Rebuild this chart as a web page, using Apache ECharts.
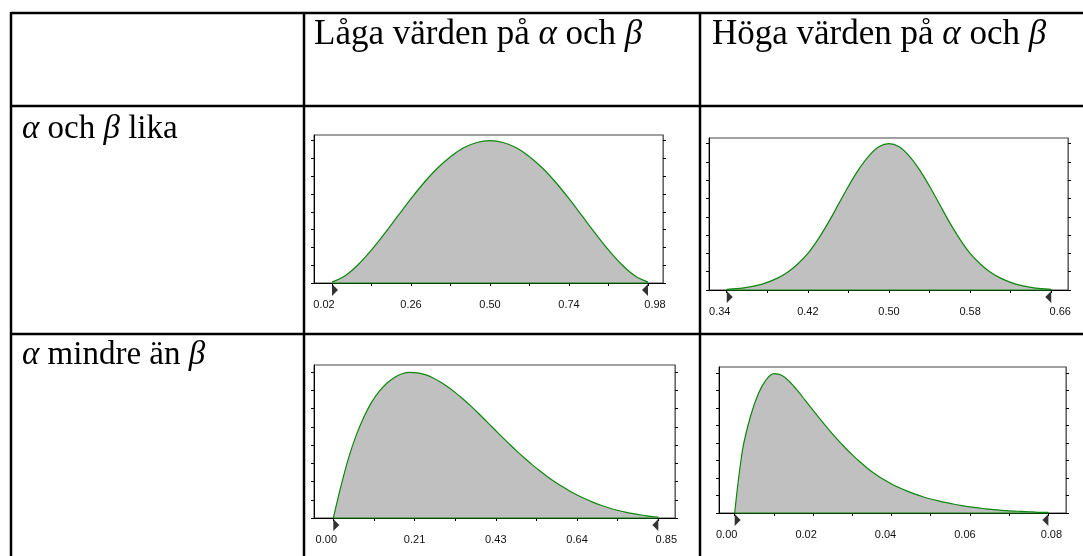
<!DOCTYPE html>
<html>
<head>
<meta charset="utf-8">
<title>Betafördelning</title>
<script src="https://cdn.jsdelivr.net/npm/echarts@6/dist/echarts.min.js"></script>
<style>
html, body { margin: 0; padding: 0; background: #fff; }
#chart { width: 1083px; height: 556px; }
</style>
</head>
<body>
<div id="chart"></div>
<script>
// ==================== data ====================

// låga värden, alpha = beta (y i tick-enheter, 0-8)
const xLowEq = [0.02, 0.06, 0.10, 0.14, 0.18, 0.22, 0.26, 0.30, 0.34, 0.38, 0.42, 0.46, 0.50,
                0.54, 0.58, 0.62, 0.66, 0.70, 0.74, 0.78, 0.82, 0.86, 0.90, 0.94, 0.98];
const yLowEq = [0.05, 0.41, 1.04, 1.86, 2.79, 3.77, 4.74, 5.65, 6.45, 7.1, 7.6, 7.9, 8.0,
                7.9, 7.6, 7.1, 6.45, 5.65, 4.74, 3.77, 2.79, 1.86, 1.04, 0.41, 0.05];
const ticksLowEq = [0.02, 0.14, 0.26, 0.38, 0.50, 0.62, 0.74, 0.86, 0.98];
const labelValsLowEq = [0.02, 0.26, 0.50, 0.74, 0.98];
const labelsLowEq = ['0.02', '0.26', '0.50', '0.74', '0.98'];

// höga värden, alpha = beta
const xHighEq = [0.34, 0.35, 0.36, 0.37, 0.38, 0.39, 0.40, 0.41, 0.42, 0.43, 0.44, 0.45, 0.46, 0.47, 0.48, 0.49, 0.50,
                 0.51, 0.52, 0.53, 0.54, 0.55, 0.56, 0.57, 0.58, 0.59, 0.60, 0.61, 0.62, 0.63, 0.64, 0.65, 0.66];
const yHighEq = [0.03, 0.07, 0.14, 0.25, 0.42, 0.65, 0.97, 1.42, 2.0, 2.77, 3.67, 4.67, 5.67, 6.58, 7.32, 7.83, 8.0,
                 7.83, 7.32, 6.58, 5.67, 4.67, 3.67, 2.77, 2.0, 1.42, 0.97, 0.65, 0.42, 0.25, 0.14, 0.07, 0.03];
const ticksHighEq = [0.34, 0.38, 0.42, 0.46, 0.50, 0.54, 0.58, 0.62, 0.66];
const labelValsHighEq = [0.34, 0.42, 0.50, 0.58, 0.66];
const labelsHighEq = ['0.34', '0.42', '0.50', '0.58', '0.66'];

// låga värden, alpha < beta
const xLowLess = [0.00, 0.02, 0.04, 0.06, 0.08, 0.10, 0.12, 0.14, 0.16, 0.18, 0.20, 0.22, 0.24, 0.26, 0.28,
                  0.30, 0.32, 0.34, 0.36, 0.38, 0.40, 0.42, 0.44, 0.46, 0.48, 0.50, 0.52, 0.54, 0.56, 0.58,
                  0.60, 0.62, 0.64, 0.66, 0.68, 0.70, 0.72, 0.74, 0.76, 0.78, 0.80, 0.82, 0.84, 0.85];
const yLowLess = [0, 1.75, 3.3, 4.55, 5.55, 6.35, 6.95, 7.4, 7.72, 7.92, 8.0, 7.97, 7.87, 7.7, 7.47,
                  7.19, 6.87, 6.52, 6.14, 5.74, 5.32, 4.9, 4.48, 4.07, 3.67, 3.29, 2.93, 2.59, 2.27, 1.98,
                  1.71, 1.46, 1.24, 1.04, 0.86, 0.7, 0.56, 0.44, 0.34, 0.25, 0.18, 0.12, 0.07, 0.05];
const ticksLowLess = [0, 0.10625, 0.2125, 0.31875, 0.425, 0.53125, 0.6375, 0.74375, 0.85];
const labelValsLowLess = [0, 0.2125, 0.425, 0.6375, 0.85];
const labelsLowLess = ['0.00', '0.21', '0.43', '0.64', '0.85'];

// höga värden, alpha < beta
const xHighLess = [0.000, 0.002, 0.004, 0.006, 0.008, 0.010, 0.012, 0.014, 0.016, 0.018, 0.020,
                   0.022, 0.024, 0.026, 0.028, 0.030, 0.032, 0.034, 0.036, 0.038, 0.040,
                   0.042, 0.044, 0.046, 0.048, 0.050, 0.052, 0.054, 0.056, 0.058, 0.060,
                   0.062, 0.064, 0.066, 0.068, 0.070, 0.072, 0.074, 0.076, 0.078, 0.080];
const yHighLess = [0, 3.6, 5.5, 6.8, 7.6, 7.96, 7.87, 7.5, 7.0, 6.43, 5.86,
                   5.3, 4.76, 4.25, 3.77, 3.32, 2.91, 2.53, 2.2, 1.91, 1.66,
                   1.44, 1.25, 1.08, 0.93, 0.8, 0.69, 0.59, 0.5, 0.42, 0.35,
                   0.29, 0.24, 0.19, 0.15, 0.12, 0.1, 0.08, 0.06, 0.04, 0.03];
const ticksHighLess = [0, 0.01, 0.02, 0.03, 0.04, 0.05, 0.06, 0.07, 0.08];
const labelValsHighLess = [0, 0.02, 0.04, 0.06, 0.08];
const labelsHighLess = ['0.00', '0.02', '0.04', '0.06', '0.08'];

const yTicks = [0, 1, 2, 3, 4, 5, 6, 7, 8];

// ==================== layout ====================

const serif = '"Liberation Serif", "Times New Roman", serif';
const sans = '"Liberation Sans", Arial, sans-serif';
const curveColor = '#0b870b';
const fillColor = '#c0c0c0';

const panels = [
    { box: [314, 135, 349, 148], xMin: -0.0347, xMax: 1.0256, yMax: 8.32,
      xs: xLowEq, ys: yLowEq, ticks: ticksLowEq, labelVals: labelValsLowEq, labels: labelsLowEq,
      shift: [-8, 0, 0, 0, 7] },
    { box: [709, 138, 359, 152], xMin: 0.3225, xMax: 0.6765, yMax: 8.31,
      xs: xHighEq, ys: yHighEq, ticks: ticksHighEq, labelVals: labelValsHighEq, labels: labelsHighEq,
      shift: [-7, 0, 0, 0, 9] },
    { box: [314, 365, 361, 153], xMin: -0.0505, xMax: 0.8937, yMax: 8.4,
      xs: xLowLess, ys: yLowLess, ticks: ticksLowLess, labelVals: labelValsLowLess, labels: labelsLowLess,
      shift: [-7, 0, 0, 0, 8] },
    { box: [719, 367, 347, 146], xMin: -0.004, xMax: 0.0845, yMax: 8.34,
      xs: xHighLess, ys: yHighLess, ticks: ticksHighLess, labelVals: labelValsHighLess, labels: labelsHighLess,
      shift: [-8, -7, -6, -5, 3] }
];

const grids = [];
const xAxes = [];
const yAxes = [];
const series = [];

panels.forEach(function(p, i) {
    grids.push({
        left: p.box[0], top: p.box[1], width: p.box[2], height: p.box[3],
        show: true, borderColor: '#444', borderWidth: 1, backgroundColor: 'transparent'
    });

    const rich = {};
    p.shift.forEach(function(dx, k) {
        rich['s' + k] = {
            fontFamily: sans, fontSize: 11, color: '#111',
            padding: dx < 0 ? [0, -2 * dx, 0, 0] : [0, 0, 0, 2 * dx]
        };
    });

    xAxes.push({
        type: 'value', gridIndex: i, min: p.xMin, max: p.xMax,
        axisLine: { show: true, onZero: false, lineStyle: { color: '#000', width: 1 } },
        axisTick: { show: true, inside: false, length: 3, customValues: p.ticks, lineStyle: { color: '#000' } },
        axisLabel: {
            show: true, margin: 16, customValues: p.labelVals,
            fontFamily: sans, fontSize: 11, color: '#111',
            formatter: function(val) {
                for (let k = 0; k < p.labelVals.length; k++) {
                    if (Math.abs(val - p.labelVals[k]) < 1e-9) return '{s' + k + '|' + p.labels[k] + '}';
                }
                return '';
            },
            rich: rich
        },
        splitLine: { show: false }
    });

    yAxes.push({
        type: 'value', gridIndex: i, min: 0, max: p.yMax, position: 'left',
        axisLine: { show: true, onZero: false, lineStyle: { color: '#000', width: 1 } },
        axisTick: { show: true, inside: false, length: 3, customValues: yTicks, lineStyle: { color: '#000' } },
        axisLabel: { show: false },
        splitLine: { show: false }
    });
    yAxes.push({
        type: 'value', gridIndex: i, min: 0, max: p.yMax, position: 'right',
        axisLine: { show: true, onZero: false, lineStyle: { color: '#666', width: 1 } },
        axisTick: { show: true, inside: false, length: 3, customValues: yTicks, lineStyle: { color: '#000' } },
        axisLabel: { show: false },
        splitLine: { show: false }
    });

    const n = p.xs.length;

    // fördelningskurvan
    series.push({
        type: 'line', xAxisIndex: i, yAxisIndex: i * 2,
        data: p.xs.map(function(x, k) { return [x, p.ys[k]]; }),
        smooth: 0.35, showSymbol: false, clip: false,
        lineStyle: { color: curveColor, width: 1.2 },
        areaStyle: { color: fillColor, opacity: 1 },
        z: 3
    });

    // grön baslinje längs x-axeln
    series.push({
        type: 'line', xAxisIndex: i, yAxisIndex: i * 2,
        data: [[p.xs[0], 0], [p.xs[n - 1], 0]],
        showSymbol: false, clip: false,
        lineStyle: { color: curveColor, width: 1.2 },
        z: 4
    });

    // markörer vid intervallets ändar
    series.push({
        type: 'scatter', xAxisIndex: i, yAxisIndex: i * 2, clip: false,
        data: [
            { value: [p.xs[0], 0], symbol: 'path://M0,0L0,12L6,6Z', symbolOffset: [3, 7] },
            { value: [p.xs[n - 1], 0], symbol: 'path://M6,0L6,12L0,6Z', symbolOffset: [-3, 7] }
        ],
        symbolSize: [6, 12],
        itemStyle: { color: '#000' },
        z: 5
    });
});

// ==================== tabell ====================

const tableLines = [
    [11, 13, 1083, 13], [11, 106, 1083, 106], [11, 334, 1083, 334],
    [11, 12, 11, 556], [304, 12, 304, 556], [700, 12, 700, 556]
];

const headRich = {
    n: { fontFamily: serif, fontSize: 35, color: '#000' },
    g: { fontFamily: serif, fontSize: 35, fontStyle: 'italic', color: '#000' }
};
const rowRich = {
    n: { fontFamily: serif, fontSize: 33, color: '#000' },
    g: { fontFamily: serif, fontSize: 33, fontStyle: 'italic', color: '#000' }
};

const cellTexts = [
    { x: 314, y: 35, rich: headRich, text: '{n|Låga värden på }{g|α}{n| och }{g|β}' },
    { x: 712, y: 35, rich: headRich, text: '{n|Höga värden på }{g|α}{n| och }{g|β}' },
    { x: 22, y: 129, rich: rowRich, text: '{g|α}{n| och }{g|β}{n| lika}' },
    { x: 22, y: 355, rich: rowRich, text: '{g|α}{n| mindre än }{g|β}' }
];

const graphics = tableLines.map(function(l) {
    return {
        type: 'line', silent: true, z: 10,
        shape: { x1: l[0], y1: l[1], x2: l[2], y2: l[3] },
        style: { stroke: '#000', lineWidth: 2.5 }
    };
}).concat(cellTexts.map(function(t) {
    return {
        type: 'text', silent: true, z: 10,
        style: {
            x: t.x, y: t.y, text: t.text, rich: t.rich,
            fontFamily: serif, fill: '#000',
            textAlign: 'left', textVerticalAlign: 'middle'
        }
    };
}));

const chart = echarts.init(document.getElementById('chart'));

chart.setOption({
    animation: false,
    backgroundColor: '#fff',
    grid: grids,
    xAxis: xAxes,
    yAxis: yAxes,
    series: series,
    graphic: graphics
});
</script>
</body>
</html>
